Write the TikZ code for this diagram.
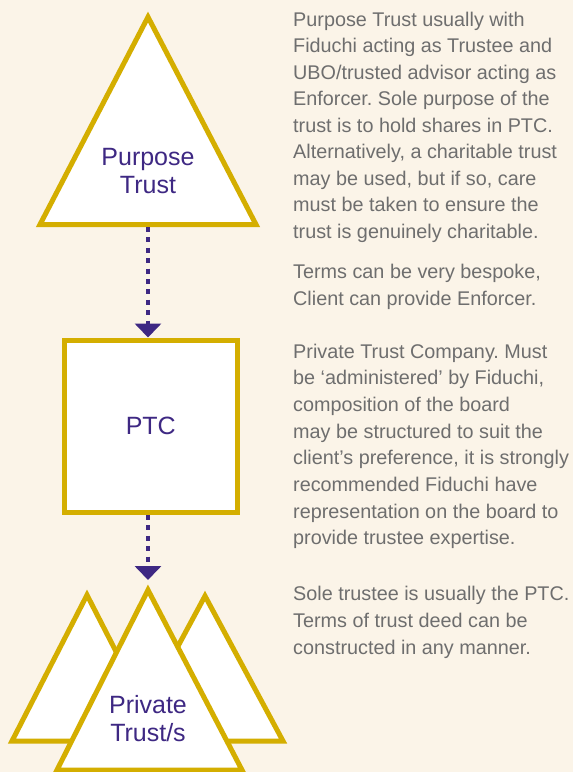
\documentclass[tikz,border=0pt]{standalone}
\usepackage{fontspec}
\setmainfont{Liberation Sans}
\usetikzlibrary{arrows.meta}
\definecolor{bgc}{HTML}{FBF4E8}
\definecolor{gold}{HTML}{D4AE00}
\definecolor{purp}{HTML}{3E2883}
\definecolor{greyt}{HTML}{6E6E6E}
\frenchspacing
\begin{document}
\begin{tikzpicture}[x=1pt,y=-1pt,
  shapeline/.style={draw=gold, line width=5pt, fill=white, line join=miter},
  lbl/.style={text=purp, font=\fontsize{25}{28}\selectfont, align=center, inner sep=0pt},
  boxnode/.style={draw=gold, line width=5pt, fill=white, inner sep=0pt,
    minimum width=172.5pt, minimum height=172.5pt, text=purp, font=\fontsize{25}{28}\selectfont},
  note/.style={text=greyt, font=\fontsize{19.8}{26}\selectfont, anchor=base west, inner sep=0pt},
  flow/.style={draw=purp, line width=4pt, dash pattern=on 5pt off 5.4pt,
    -{Triangle[width=26pt,length=14pt]}}]
\fill[bgc] (0,0) rectangle (573,772);
\useasboundingbox (0,0) rectangle (573,772);

% Purpose trust
\draw[shapeline] (148,17) -- (256,224.5) -- (40,224.5) -- cycle;
\node[lbl] (pt) at (148,171) {Purpose\\Trust};
\coordinate (ptbase) at (148,227);

% PTC
\node[boxnode] (ptc) at (150.75,426.25) {PTC};

% Private trusts
\draw[shapeline] (87,595) -- (162,741) -- (12,741) -- cycle;
\draw[shapeline] (205,596) -- (283,741) -- (127,741) -- cycle;
\draw[shapeline] (148,590) -- (242,770) -- (57,770) -- cycle;
\node[lbl] (prt) at (148,718.6) {Private\\Trust/s};
\coordinate (ftop) at (148,580);

% connectors
\draw[flow] (ptbase) -- (ptc.north -| ptbase);
\draw[flow] (ptc.south -| ftop) -- (ftop);

% notes
\foreach \yy/\tt [count=\i] in {
  26/{Purpose Trust usually with},
  52.5/{Fiduchi acting as Trustee and},
  79/{UBO/trusted advisor acting as},
  105.5/{Enforcer. Sole purpose of the},
  132/{trust is to hold shares in PTC.},
  158.5/{Alternatively, a charitable trust},
  185/{may be used, but if so, care},
  211.5/{must be taken to ensure the},
  238/{trust is genuinely charitable.},
  278/{Terms can be very bespoke,},
  305/{Client can provide Enforcer.},
  358/{Private Trust Company. Must},
  384.7/{be ‘administered’ by Fiduchi,},
  411.4/{composition of the board},
  438.1/{may be structured to suit the},
  464.8/{client’s preference, it is strongly},
  491.5/{recommended Fiduchi have},
  518.2/{representation on the board to},
  544.9/{provide trustee expertise.},
  600/{Sole trustee is usually the PTC.},
  627/{Terms of trust deed can be},
  654/{constructed in any manner.}}
  \node[note] (note\i) at (293,\yy) {\tt};
\end{tikzpicture}
\end{document}
